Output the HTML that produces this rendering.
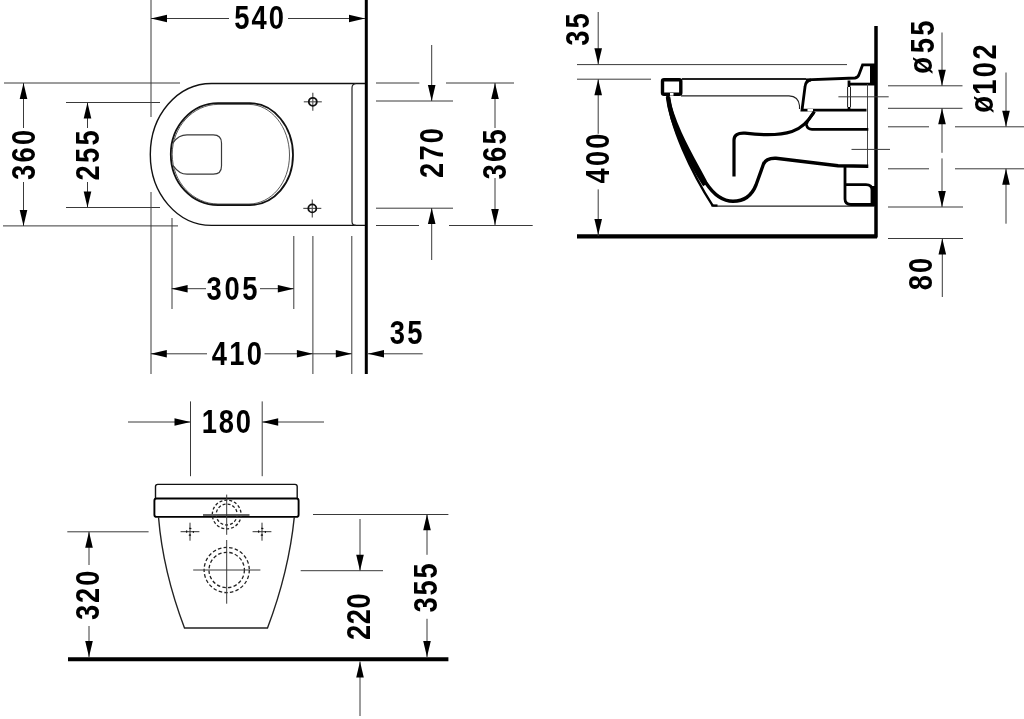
<!DOCTYPE html>
<html><head><meta charset="utf-8"><style>
html,body{margin:0;padding:0;background:#fff;width:1024px;height:719px;overflow:hidden}
svg{display:block;will-change:transform}
text{font-family:"Liberation Sans",sans-serif;font-weight:bold;fill:#000}
</style></head><body>
<svg width="1024" height="719" viewBox="0 0 1024 719">
<line x1="366.3" y1="0" x2="366.3" y2="374" stroke="#000" stroke-width="3"/>
<line x1="151" y1="0" x2="151" y2="117" stroke="#3a3a3a" stroke-width="1.0"/>
<line x1="151" y1="192" x2="151" y2="374" stroke="#3a3a3a" stroke-width="1.0"/>
<line x1="151" y1="18.5" x2="229" y2="18.5" stroke="#3a3a3a" stroke-width="1.0"/>
<line x1="288" y1="18.5" x2="365" y2="18.5" stroke="#3a3a3a" stroke-width="1.0"/>
<polygon points="151.00,18.50 167.00,14.70 167.00,22.30" fill="#000"/>
<polygon points="365.00,18.50 349.00,14.70 349.00,22.30" fill="#000"/>
<text transform="translate(241.75,29.15) scale(0.807,1)" text-anchor="middle" font-size="33.90">5</text>
<text transform="translate(259.00,29.15) scale(0.807,1)" text-anchor="middle" font-size="33.90">4</text>
<text transform="translate(276.25,29.15) scale(0.807,1)" text-anchor="middle" font-size="33.90">0</text>
<line x1="4" y1="83" x2="180" y2="83" stroke="#3a3a3a" stroke-width="1.0"/>
<line x1="66" y1="102.5" x2="160" y2="102.5" stroke="#3a3a3a" stroke-width="1.0"/>
<line x1="66" y1="207.5" x2="160" y2="207.5" stroke="#3a3a3a" stroke-width="1.0"/>
<line x1="3" y1="225.9" x2="178" y2="225.9" stroke="#3a3a3a" stroke-width="1.0"/>
<line x1="23.5" y1="83" x2="23.5" y2="128" stroke="#3a3a3a" stroke-width="1.0"/>
<line x1="23.5" y1="182" x2="23.5" y2="225.9" stroke="#3a3a3a" stroke-width="1.0"/>
<polygon points="23.50,83.00 19.70,99.00 27.30,99.00" fill="#000"/>
<polygon points="23.50,225.90 19.70,209.90 27.30,209.90" fill="#000"/>
<text transform="translate(35.00,172.50) rotate(-90) scale(0.807,1)" text-anchor="middle" font-size="33.90">3</text>
<text transform="translate(35.00,155.00) rotate(-90) scale(0.807,1)" text-anchor="middle" font-size="33.90">6</text>
<text transform="translate(35.00,137.50) rotate(-90) scale(0.807,1)" text-anchor="middle" font-size="33.90">0</text>
<line x1="87.5" y1="102.5" x2="87.5" y2="128" stroke="#3a3a3a" stroke-width="1.0"/>
<line x1="87.5" y1="182" x2="87.5" y2="207.5" stroke="#3a3a3a" stroke-width="1.0"/>
<polygon points="87.50,102.50 83.70,118.50 91.30,118.50" fill="#000"/>
<polygon points="87.50,207.50 83.70,191.50 91.30,191.50" fill="#000"/>
<text transform="translate(99.10,172.80) rotate(-90) scale(0.807,1)" text-anchor="middle" font-size="33.90">2</text>
<text transform="translate(99.10,155.40) rotate(-90) scale(0.807,1)" text-anchor="middle" font-size="33.90">5</text>
<text transform="translate(99.10,138.00) rotate(-90) scale(0.807,1)" text-anchor="middle" font-size="33.90">5</text>
<path d="M365,83.5 L211.5,83.5 C177.3,83.5 150.3,115.3 150.3,154.5 C150.3,193.7 177.3,225.4 211.5,225.4 L365,225.4" stroke="#111" stroke-width="1.4" fill="none"/>
<path d="M356,83.5 Q352,84 352,88 L352,221.5 Q352,225.4 356,225.4" stroke="#222" stroke-width="1.2" fill="none"/>
<path d="M218,103.2 L250,103.2 C273.7,103.2 293,126.8 293,155 C293,183.2 273.7,205 250,205 L218,205 C192,205 170.8,183 170.8,154.2 C170.8,126 192,103.2 218,103.2 Z" stroke="#111" stroke-width="1.8" fill="none"/>
<path d="M218,104.4 L249,104.4 C271,104.4 289.5,127 289.5,155 C289.5,183 271,204 249,204 L218,204 C193,204 172.2,182 172.2,154.2 C172.2,127 193,104.4 218,104.4 Z" stroke="#444" stroke-width="0.9" fill="none"/>
<path d="M173.3,142.5 C177,137 181,134.8 187,134.8 L213.3,134.8 Q221.5,134.8 221.5,143 L221.5,166 Q221.5,174.2 213.3,174.2 L187,174.2 C181,174.2 177,171 173.3,165.8" stroke="#3a3a3a" stroke-width="1.2" fill="none"/>
<line x1="303.8" y1="101.8" x2="321.8" y2="101.8" stroke="#555" stroke-width="1.2"/>
<line x1="312.8" y1="92.8" x2="312.8" y2="110.8" stroke="#555" stroke-width="1.2"/>
<circle cx="312.8" cy="101.8" r="4.0" fill="none" stroke="#111" stroke-width="1.8"/>
<line x1="303.3" y1="208.4" x2="321.3" y2="208.4" stroke="#555" stroke-width="1.2"/>
<line x1="312.3" y1="199.4" x2="312.3" y2="217.4" stroke="#555" stroke-width="1.2"/>
<circle cx="312.3" cy="208.4" r="4.0" fill="none" stroke="#111" stroke-width="1.8"/>
<line x1="172" y1="218" x2="172" y2="309" stroke="#3a3a3a" stroke-width="1.0"/>
<line x1="293.8" y1="236" x2="293.8" y2="309" stroke="#3a3a3a" stroke-width="1.0"/>
<line x1="312.9" y1="236" x2="312.9" y2="374" stroke="#3a3a3a" stroke-width="1.0"/>
<line x1="351.8" y1="236" x2="351.8" y2="374" stroke="#3a3a3a" stroke-width="1.0"/>
<line x1="171.6" y1="288.7" x2="206" y2="288.7" stroke="#3a3a3a" stroke-width="1.0"/>
<line x1="260" y1="288.7" x2="293.8" y2="288.7" stroke="#3a3a3a" stroke-width="1.0"/>
<polygon points="171.60,288.70 187.60,284.90 187.60,292.50" fill="#000"/>
<polygon points="293.80,288.70 277.80,284.90 277.80,292.50" fill="#000"/>
<text transform="translate(214.20,299.80) scale(0.807,1)" text-anchor="middle" font-size="33.90">3</text>
<text transform="translate(232.00,299.80) scale(0.807,1)" text-anchor="middle" font-size="33.90">0</text>
<text transform="translate(249.80,299.80) scale(0.807,1)" text-anchor="middle" font-size="33.90">5</text>
<line x1="150.8" y1="353.8" x2="207" y2="353.8" stroke="#3a3a3a" stroke-width="1.0"/>
<line x1="264.5" y1="353.8" x2="351.8" y2="353.8" stroke="#3a3a3a" stroke-width="1.0"/>
<polygon points="150.80,353.80 166.80,350.00 166.80,357.60" fill="#000"/>
<polygon points="312.90,353.80 296.90,350.00 296.90,357.60" fill="#000"/>
<polygon points="351.80,353.80 335.80,350.00 335.80,357.60" fill="#000"/>
<line x1="368" y1="353.8" x2="422.7" y2="353.8" stroke="#3a3a3a" stroke-width="1.0"/>
<polygon points="368.00,353.80 384.00,350.00 384.00,357.60" fill="#000"/>
<text transform="translate(219.40,364.50) scale(0.807,1)" text-anchor="middle" font-size="33.90">4</text>
<text transform="translate(236.90,364.50) scale(0.807,1)" text-anchor="middle" font-size="33.90">1</text>
<text transform="translate(254.40,364.50) scale(0.807,1)" text-anchor="middle" font-size="33.90">0</text>
<text transform="translate(397.25,343.50) scale(0.807,1)" text-anchor="middle" font-size="33.90">3</text>
<text transform="translate(414.75,343.50) scale(0.807,1)" text-anchor="middle" font-size="33.90">5</text>
<line x1="376" y1="83" x2="419.3" y2="83" stroke="#3a3a3a" stroke-width="1.0"/>
<line x1="446" y1="83" x2="514" y2="83" stroke="#3a3a3a" stroke-width="1.0"/>
<line x1="376" y1="101" x2="453" y2="101" stroke="#3a3a3a" stroke-width="1.0"/>
<line x1="376" y1="208.2" x2="453" y2="208.2" stroke="#3a3a3a" stroke-width="1.0"/>
<line x1="376" y1="225.5" x2="419" y2="225.5" stroke="#3a3a3a" stroke-width="1.0"/>
<line x1="449" y1="225.5" x2="532.7" y2="225.5" stroke="#3a3a3a" stroke-width="1.0"/>
<line x1="431.7" y1="45" x2="431.7" y2="101" stroke="#3a3a3a" stroke-width="1.0"/>
<polygon points="431.70,101.00 427.90,85.00 435.50,85.00" fill="#000"/>
<line x1="431.7" y1="208" x2="431.7" y2="260" stroke="#3a3a3a" stroke-width="1.0"/>
<polygon points="431.70,208.00 427.90,224.00 435.50,224.00" fill="#000"/>
<text transform="translate(443.10,170.40) rotate(-90) scale(0.807,1)" text-anchor="middle" font-size="33.90">2</text>
<text transform="translate(443.10,153.00) rotate(-90) scale(0.807,1)" text-anchor="middle" font-size="33.90">7</text>
<text transform="translate(443.10,135.60) rotate(-90) scale(0.807,1)" text-anchor="middle" font-size="33.90">0</text>
<line x1="495" y1="83" x2="495" y2="128" stroke="#3a3a3a" stroke-width="1.0"/>
<line x1="495" y1="178" x2="495" y2="225" stroke="#3a3a3a" stroke-width="1.0"/>
<polygon points="495.00,83.00 491.20,99.00 498.80,99.00" fill="#000"/>
<polygon points="495.00,225.00 491.20,209.00 498.80,209.00" fill="#000"/>
<text transform="translate(505.50,172.00) rotate(-90) scale(0.807,1)" text-anchor="middle" font-size="33.90">3</text>
<text transform="translate(505.50,154.40) rotate(-90) scale(0.807,1)" text-anchor="middle" font-size="33.90">6</text>
<text transform="translate(505.50,136.80) rotate(-90) scale(0.807,1)" text-anchor="middle" font-size="33.90">5</text>
<line x1="876" y1="26" x2="876" y2="237.5" stroke="#000" stroke-width="3.5"/>
<line x1="577" y1="236.4" x2="877" y2="236.4" stroke="#000" stroke-width="4.2"/>
<line x1="598.2" y1="12" x2="598.2" y2="64.3" stroke="#3a3a3a" stroke-width="1.0"/>
<polygon points="598.20,64.30 594.40,48.30 602.00,48.30" fill="#000"/>
<text transform="translate(588.90,38.20) rotate(-90) scale(0.807,1)" text-anchor="middle" font-size="33.90">3</text>
<text transform="translate(588.90,21.00) rotate(-90) scale(0.807,1)" text-anchor="middle" font-size="33.90">5</text>
<line x1="577" y1="64.6" x2="847" y2="64.6" stroke="#3a3a3a" stroke-width="1.0"/>
<line x1="577" y1="79.2" x2="651" y2="79.2" stroke="#3a3a3a" stroke-width="1.0"/>
<line x1="598.2" y1="79.2" x2="598.2" y2="133.8" stroke="#3a3a3a" stroke-width="1.0"/>
<line x1="598.2" y1="189.4" x2="598.2" y2="236" stroke="#3a3a3a" stroke-width="1.0"/>
<polygon points="598.20,79.20 594.40,95.20 602.00,95.20" fill="#000"/>
<polygon points="598.20,235.00 594.40,219.00 602.00,219.00" fill="#000"/>
<text transform="translate(608.80,175.85) rotate(-90) scale(0.807,1)" text-anchor="middle" font-size="33.90">4</text>
<text transform="translate(608.80,158.50) rotate(-90) scale(0.807,1)" text-anchor="middle" font-size="33.90">0</text>
<text transform="translate(608.80,141.15) rotate(-90) scale(0.807,1)" text-anchor="middle" font-size="33.90">0</text>
<rect x="662.5" y="79.8" width="18.3" height="14.4" rx="1.5" fill="none" stroke="#000" stroke-width="3.4"/>
<rect x="670" y="93" width="3.5" height="2.6" fill="#fff"/>
<line x1="682" y1="78.9" x2="806" y2="78.9" stroke="#222" stroke-width="2"/>
<path d="M681,95.9 L789,95.9 Q798.6,96.5 799.5,105.6 L799.5,109" stroke="#222" stroke-width="1.1" fill="none"/>
<path d="M806,79.8 L855,78 Q858,77.5 859,74.5 L862.6,64.9 L875,64.9" stroke="#000" stroke-width="2.8" fill="none"/>
<path d="M811,80 Q805.5,80.5 805,87 L802,110.2 L812,110.2" stroke="#000" stroke-width="2.8" fill="none"/>
<line x1="812" y1="110.2" x2="866.5" y2="110.2" stroke="#000" stroke-width="2.8"/>
<rect x="807.5" y="109" width="5.5" height="2.4" fill="#fff"/>
<path d="M849,80.5 L849,110" stroke="#000" stroke-width="2.8" fill="none"/>
<rect x="848" y="87" width="2" height="20" fill="#fff"/>
<line x1="847.6" y1="87" x2="847.6" y2="107" stroke="#222" stroke-width="1"/>
<line x1="850.5" y1="87" x2="850.5" y2="107" stroke="#222" stroke-width="1"/>
<rect x="870" y="64" width="5.5" height="20.5" fill="#000"/>
<line x1="849" y1="84.1" x2="875" y2="84.1" stroke="#000" stroke-width="2.8"/>
<line x1="867.5" y1="84.1" x2="867.5" y2="167" stroke="#444" stroke-width="1"/>
<line x1="838.4" y1="96.8" x2="888.7" y2="96.8" stroke="#3a3a3a" stroke-width="1.0"/>
<line x1="851.5" y1="149.4" x2="890" y2="149.4" stroke="#3a3a3a" stroke-width="1.0"/>
<path d="M814,112.5 Q806,122 806.5,125 Q807.5,129.3 812,129.3 L868.3,129.3" stroke="#000" stroke-width="2.8" fill="none"/>
<path d="M814.4,111.5 C808,122 800,129 792,131.5 C780,135.5 760,135 745,133.2 Q734,132.5 734,140 L734,176.5" stroke="#000" stroke-width="3.2" fill="none"/>
<path d="M868.3,166.3 L838,165.8 L776,158.2 Q766,157.8 763.5,164 L756,185 C752,195 744,201.3 733,201.3 C720,201.3 712,192 706,183 C694,160 672,124 667.7,95" stroke="#000" stroke-width="3.4" fill="none"/>
<path d="M667.5,95 C669,125 691,172 713,206.2" stroke="#000" stroke-width="2.3" fill="none"/>
<path d="M668,97 C671,125 692,165 705,185" stroke="#000" stroke-width="4.5" fill="none"/>
<line x1="713" y1="206.2" x2="875" y2="206.2" stroke="#222" stroke-width="1.2"/>
<line x1="711.5" y1="205.5" x2="717.5" y2="205.5" stroke="#000" stroke-width="2.2"/>
<path d="M845,166.3 L845,199 Q845,204.5 851,204.5 L876,204.5" stroke="#000" stroke-width="2.8" fill="none"/>
<path d="M845,184.7 L866,184.7 Q872,184.7 872,190 L872,204.5" stroke="#000" stroke-width="2.8" fill="none"/>
<rect x="871" y="186" width="5" height="19" fill="#000"/>
<line x1="888" y1="85.8" x2="962.5" y2="85.8" stroke="#3a3a3a" stroke-width="1.0"/>
<line x1="888" y1="108.3" x2="962.5" y2="108.3" stroke="#3a3a3a" stroke-width="1.0"/>
<line x1="888" y1="126.8" x2="929" y2="126.8" stroke="#3a3a3a" stroke-width="1.0"/>
<line x1="955" y1="126.8" x2="1024" y2="126.8" stroke="#3a3a3a" stroke-width="1.0"/>
<line x1="888" y1="168.8" x2="929" y2="168.8" stroke="#3a3a3a" stroke-width="1.0"/>
<line x1="955" y1="168.8" x2="1024" y2="168.8" stroke="#3a3a3a" stroke-width="1.0"/>
<line x1="888" y1="207" x2="963" y2="207" stroke="#3a3a3a" stroke-width="1.0"/>
<line x1="888" y1="238.5" x2="963" y2="238.5" stroke="#3a3a3a" stroke-width="1.0"/>
<line x1="942" y1="32.5" x2="942" y2="85.8" stroke="#3a3a3a" stroke-width="1.0"/>
<polygon points="942.00,85.80 938.20,69.80 945.80,69.80" fill="#000"/>
<line x1="942" y1="108.3" x2="942" y2="152.8" stroke="#3a3a3a" stroke-width="1.0"/>
<line x1="942" y1="158.4" x2="942" y2="207" stroke="#3a3a3a" stroke-width="1.0"/>
<polygon points="942.00,108.30 938.20,124.30 945.80,124.30" fill="#000"/>
<polygon points="942.00,207.00 938.20,191.00 945.80,191.00" fill="#000"/>
<text transform="translate(931.95,65.50) rotate(-90) scale(0.807,1)" text-anchor="middle" font-size="33.90">ø</text>
<text transform="translate(934.35,45.75) rotate(-90) scale(0.807,1)" text-anchor="middle" font-size="33.90">5</text>
<text transform="translate(934.35,28.15) rotate(-90) scale(0.807,1)" text-anchor="middle" font-size="33.90">5</text>
<line x1="1006" y1="72.5" x2="1006" y2="126.7" stroke="#3a3a3a" stroke-width="1.0"/>
<polygon points="1006.00,126.70 1002.20,110.70 1009.80,110.70" fill="#000"/>
<line x1="1006" y1="168.7" x2="1006" y2="223.7" stroke="#3a3a3a" stroke-width="1.0"/>
<polygon points="1006.00,168.70 1002.20,184.70 1009.80,184.70" fill="#000"/>
<text transform="translate(993.20,104.40) rotate(-90) scale(0.807,1)" text-anchor="middle" font-size="33.90">ø</text>
<text transform="translate(995.60,87.20) rotate(-90) scale(0.807,1)" text-anchor="middle" font-size="33.90">1</text>
<text transform="translate(995.60,69.70) rotate(-90) scale(0.807,1)" text-anchor="middle" font-size="33.90">0</text>
<text transform="translate(995.60,51.90) rotate(-90) scale(0.807,1)" text-anchor="middle" font-size="33.90">2</text>
<line x1="942.3" y1="238.5" x2="942.3" y2="297" stroke="#3a3a3a" stroke-width="1.0"/>
<polygon points="942.30,238.50 938.50,254.50 946.10,254.50" fill="#000"/>
<text transform="translate(931.50,282.70) rotate(-90) scale(0.807,1)" text-anchor="middle" font-size="33.90">8</text>
<text transform="translate(931.50,265.30) rotate(-90) scale(0.807,1)" text-anchor="middle" font-size="33.90">0</text>
<line x1="190.5" y1="401.4" x2="190.5" y2="476.2" stroke="#3a3a3a" stroke-width="1.0"/>
<line x1="262.2" y1="401.4" x2="262.2" y2="476.2" stroke="#3a3a3a" stroke-width="1.0"/>
<line x1="128" y1="422" x2="190.5" y2="422" stroke="#3a3a3a" stroke-width="1.0"/>
<polygon points="190.50,422.00 174.50,418.20 174.50,425.80" fill="#000"/>
<line x1="262.2" y1="422" x2="324" y2="422" stroke="#3a3a3a" stroke-width="1.0"/>
<polygon points="262.20,422.00 278.20,418.20 278.20,425.80" fill="#000"/>
<text transform="translate(209.30,433.00) scale(0.807,1)" text-anchor="middle" font-size="33.90">1</text>
<text transform="translate(226.30,433.00) scale(0.807,1)" text-anchor="middle" font-size="33.90">8</text>
<text transform="translate(243.25,433.00) scale(0.807,1)" text-anchor="middle" font-size="33.90">0</text>
<path d="M155.5,498.5 L155.5,486.6 Q155.5,484.4 157.7,484.4 L295,484.4 Q297.2,484.4 297.2,486.6 L297.2,498.5" stroke="#111" stroke-width="1.4" fill="none"/>
<path d="M156.6,498.5 L296.4,498.5 Q298.6,498.5 298.6,500.7 L298.6,514.7 Q298.6,516.9 296.4,516.9 L156.6,516.9 Q154.4,516.9 154.4,514.7 L154.4,500.7 Q154.4,498.5 156.6,498.5 Z" stroke="#000" stroke-width="1.9" fill="none"/>
<path d="M158.5,517 C162,560 172,595 184.5,628 L267.5,628 C280,595 290,560 294.3,517" stroke="#222" stroke-width="1.4" fill="none"/>
<circle cx="226.7" cy="514.5" r="14.4" fill="none" stroke="#222" stroke-width="1.3" stroke-dasharray="3,2"/>
<circle cx="226.7" cy="514.5" r="10.5" fill="none" stroke="#222" stroke-width="1.3" stroke-dasharray="3,2"/>
<circle cx="226.7" cy="570" r="22.6" fill="none" stroke="#222" stroke-width="1.3" stroke-dasharray="3.5,2.2"/>
<circle cx="226.7" cy="570" r="17.7" fill="none" stroke="#222" stroke-width="1.3" stroke-dasharray="3.5,2.2"/>
<line x1="203" y1="515" x2="249.5" y2="515" stroke="#666" stroke-width="2"/>
<line x1="226.7" y1="494.6" x2="226.7" y2="534.8" stroke="#3a3a3a" stroke-width="1.0"/>
<line x1="226.7" y1="540" x2="226.7" y2="603.7" stroke="#3a3a3a" stroke-width="1.0"/>
<line x1="193.2" y1="570" x2="260.4" y2="570" stroke="#3a3a3a" stroke-width="1.0"/>
<line x1="180.6" y1="531.7" x2="199.4" y2="531.7" stroke="#333" stroke-width="1.0"/>
<line x1="190" y1="522.7" x2="190" y2="540.7" stroke="#333" stroke-width="1.0"/>
<circle cx="190" cy="531.7" r="3.4" fill="none" stroke="#111" stroke-width="1.3" stroke-dasharray="2.2,3.1" stroke-dashoffset="1.1"/>
<line x1="252.6" y1="531.7" x2="271.4" y2="531.7" stroke="#333" stroke-width="1.0"/>
<line x1="262" y1="522.7" x2="262" y2="540.7" stroke="#333" stroke-width="1.0"/>
<circle cx="262" cy="531.7" r="3.4" fill="none" stroke="#111" stroke-width="1.3" stroke-dasharray="2.2,3.1" stroke-dashoffset="1.1"/>
<line x1="67.3" y1="531.8" x2="148.6" y2="531.8" stroke="#3a3a3a" stroke-width="1.0"/>
<line x1="313" y1="514.5" x2="448.4" y2="514.5" stroke="#3a3a3a" stroke-width="1.0"/>
<line x1="300.7" y1="570.7" x2="383" y2="570.7" stroke="#3a3a3a" stroke-width="1.0"/>
<line x1="68" y1="659.2" x2="448.4" y2="659.2" stroke="#000" stroke-width="4"/>
<line x1="89" y1="531.8" x2="89" y2="565" stroke="#3a3a3a" stroke-width="1.0"/>
<line x1="89" y1="626" x2="89" y2="657" stroke="#3a3a3a" stroke-width="1.0"/>
<polygon points="89.00,531.80 85.20,547.80 92.80,547.80" fill="#000"/>
<polygon points="89.00,657.00 85.20,641.00 92.80,641.00" fill="#000"/>
<text transform="translate(99.30,612.40) rotate(-90) scale(0.807,1)" text-anchor="middle" font-size="33.90">3</text>
<text transform="translate(99.30,595.30) rotate(-90) scale(0.807,1)" text-anchor="middle" font-size="33.90">2</text>
<text transform="translate(99.30,578.20) rotate(-90) scale(0.807,1)" text-anchor="middle" font-size="33.90">0</text>
<line x1="360" y1="519" x2="360" y2="570.7" stroke="#3a3a3a" stroke-width="1.0"/>
<polygon points="360.00,570.70 356.20,554.70 363.80,554.70" fill="#000"/>
<line x1="360" y1="661.5" x2="360" y2="716" stroke="#3a3a3a" stroke-width="1.0"/>
<polygon points="360.00,661.50 356.20,677.50 363.80,677.50" fill="#000"/>
<text transform="translate(370.45,632.30) rotate(-90) scale(0.807,1)" text-anchor="middle" font-size="33.90">2</text>
<text transform="translate(370.45,616.60) rotate(-90) scale(0.807,1)" text-anchor="middle" font-size="33.90">2</text>
<text transform="translate(370.45,600.90) rotate(-90) scale(0.807,1)" text-anchor="middle" font-size="33.90">0</text>
<line x1="427" y1="514.3" x2="427" y2="554.8" stroke="#3a3a3a" stroke-width="1.0"/>
<line x1="427" y1="618.8" x2="427" y2="657" stroke="#3a3a3a" stroke-width="1.0"/>
<polygon points="427.00,514.30 423.20,530.30 430.80,530.30" fill="#000"/>
<polygon points="427.00,657.00 423.20,641.00 430.80,641.00" fill="#000"/>
<text transform="translate(437.00,604.80) rotate(-90) scale(0.807,1)" text-anchor="middle" font-size="33.90">3</text>
<text transform="translate(437.00,587.80) rotate(-90) scale(0.807,1)" text-anchor="middle" font-size="33.90">5</text>
<text transform="translate(437.00,570.80) rotate(-90) scale(0.807,1)" text-anchor="middle" font-size="33.90">5</text>
</svg></body></html>
